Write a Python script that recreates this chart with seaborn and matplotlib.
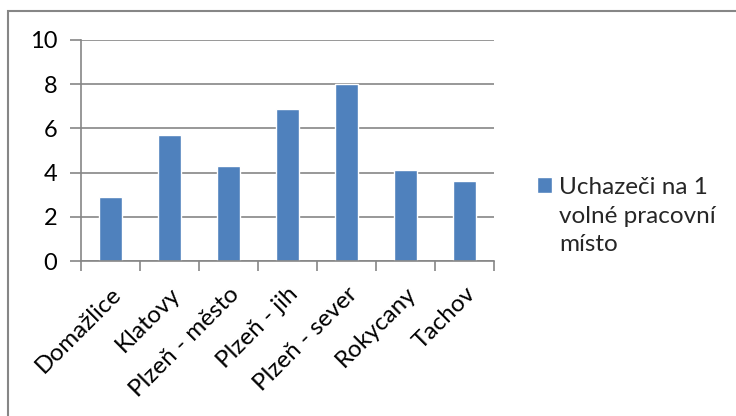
import matplotlib
matplotlib.use("Agg")
import matplotlib.pyplot as plt
import seaborn as sns
import pandas as pd
from matplotlib.patches import Rectangle

categories = ["Domažlice", "Klatovy", "Plzeň - město", "Plzeň - jih",
              "Plzeň - sever", "Rokycany", "Tachov"]
values = [2.9, 5.7, 4.3, 6.9, 8.0, 4.1, 3.6]
series_label = "Uchazeči na 1\nvolné pracovní\nmísto"
y_ticks = [0, 2, 4, 6, 8, 10]

sns.set_theme(style="white")
plt.rcParams["font.family"] = ["Lato", "DejaVu Sans"]

df = pd.DataFrame({"okres": categories, "hodnota": values})

fig = plt.figure(figsize=(7.36, 4.16), dpi=100)
ax = fig.add_axes([80.7 / 736, 1 - 261 / 416, (494 - 80.7) / 736, (261 - 40) / 416])

sns.barplot(data=df, x="okres", y="hodnota", color="#4F81BD", saturation=1,
            width=0.385, label=series_label, ax=ax)

grid_c = "#868686"
ax.set_ylim(0, 10)
ax.set_xlim(-0.5, len(categories) - 0.5)
ax.set_yticks(y_ticks)
ax.set_yticklabels([str(t) for t in y_ticks], fontsize=17, color="black")
ax.yaxis.grid(True, color=grid_c, linewidth=1.2)
ax.set_axisbelow(True)
ax.set_xlabel("")
ax.set_ylabel("")

ax.set_xticks(range(len(categories)))
ax.set_xticklabels(categories, rotation=45, ha="right", rotation_mode="anchor",
                   fontsize=17.5, color="black")
ax.tick_params(axis="x", length=0, pad=16)
ax.set_xticks([i - 0.5 for i in range(len(categories) + 1)], minor=True)
ax.tick_params(axis="x", which="minor", length=7, color=grid_c, width=1.2, direction="out", bottom=True)
ax.tick_params(axis="y", length=8, color=grid_c, width=1.2, direction="out", left=True, pad=9)

for side in ["top", "right"]:
    ax.spines[side].set_visible(False)
for side in ["left", "bottom"]:
    ax.spines[side].set_color(grid_c)
    ax.spines[side].set_linewidth(1.2)

leg = ax.legend(loc="upper left", bbox_to_anchor=(520 / 736, 1 - 160 / 416),
                bbox_transform=fig.transFigure, frameon=False, fontsize=17.5,
                handlelength=0.62, handleheight=0.62, handletextpad=0.3,
                labelspacing=0.3, borderpad=0.2)
for t in leg.get_texts():
    t.set_linespacing(1.45)
for col in leg._legend_handle_box.get_children():
    for row in col.get_children():
        row.align = "top"

fig.patches.append(Rectangle((8 / 736, -0.1), 2, 1 - 11 / 416 + 0.1,
                             transform=fig.transFigure, fill=False,
                             edgecolor=grid_c, linewidth=1.5))

fig.savefig("out.png", dpi=100)
